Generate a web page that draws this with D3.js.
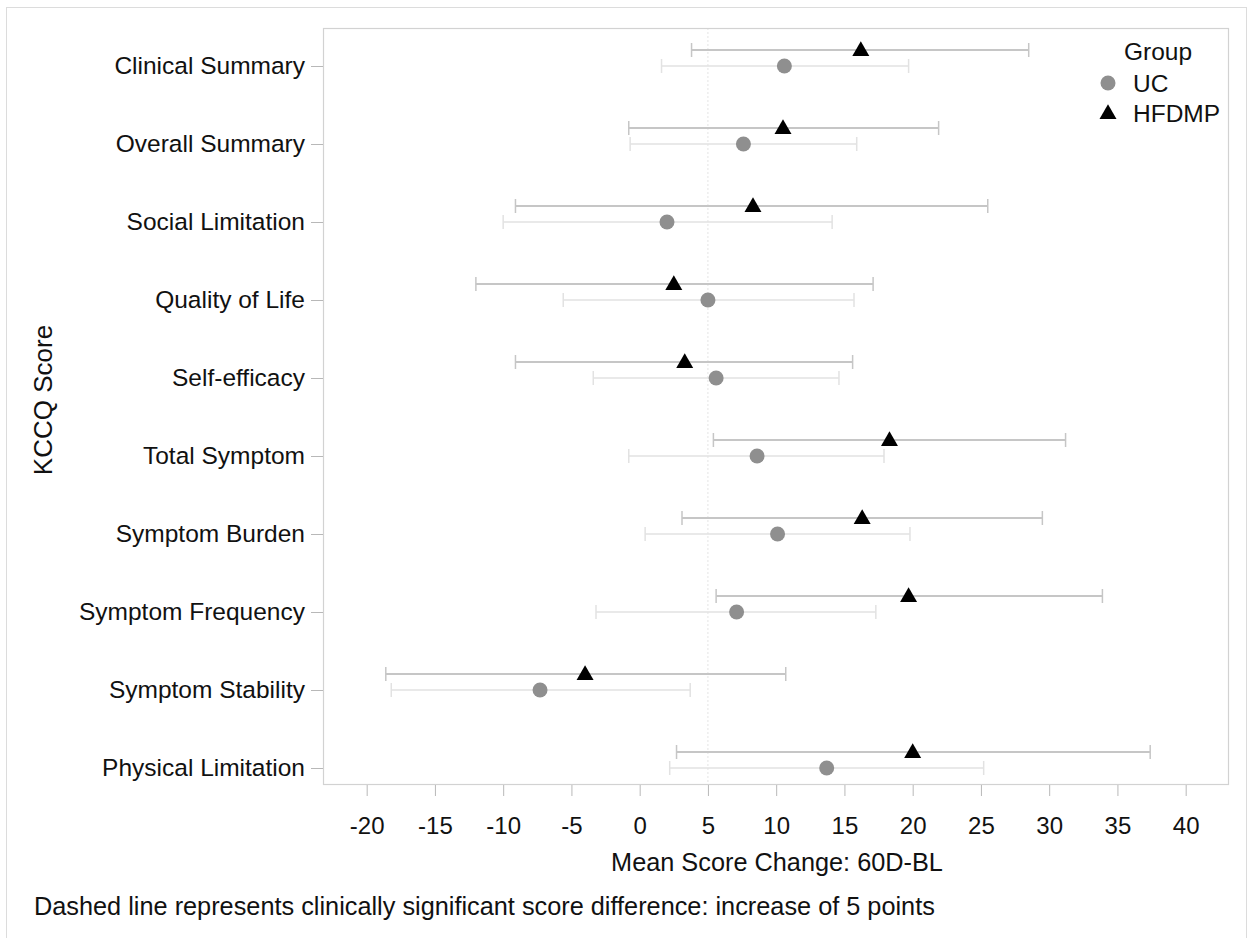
<!DOCTYPE html>
<html>
<head>
<meta charset="utf-8">
<script src="https://cdn.jsdelivr.net/npm/d3@7"></script>
<style>
  body { margin: 0; background: #fff; }
  svg { display: block; font-family: "Liberation Sans", Arial, sans-serif; }
</style>
</head>
<body>
<div id="chart"></div>
<script>
// KCCQ domains, top to bottom
const categories = [
  "Clinical Summary", "Overall Summary", "Social Limitation", "Quality of Life",
  "Self-efficacy", "Total Symptom", "Symptom Burden", "Symptom Frequency",
  "Symptom Stability", "Physical Limitation"
];

// UC group: mean change and 95% CI
const ucMean  = [10.6, 7.6, 2.0, 5.0, 5.6, 8.6, 10.1, 7.1, -7.3, 13.7];
const ucLower = [1.6, -0.7, -10.0, -5.6, -3.4, -0.8, 0.4, -3.2, -18.2, 2.2];
const ucUpper = [19.7, 15.9, 14.1, 15.7, 14.6, 17.9, 19.8, 17.3, 3.7, 25.2];

// HFDMP group: mean change and 95% CI
const hfMean  = [16.2, 10.5, 8.3, 2.5, 3.3, 18.3, 16.3, 19.7, -4.0, 20.0];
const hfLower = [3.8, -0.8, -9.1, -12.0, -9.1, 5.4, 3.1, 5.6, -18.6, 2.7];
const hfUpper = [28.5, 21.9, 25.5, 17.1, 15.6, 31.2, 29.5, 33.9, 10.7, 37.4];

const xTicks = [-20, -15, -10, -5, 0, 5, 10, 15, 20, 25, 30, 35, 40];
const refValue = 5;
const groups = ["UC", "HFDMP"];

const W = 1255, H = 938;
const frame = { left: 323, right: 1228, top: 28, bottom: 784 };
const labelSize = 24.5;
const titleSize = 25.3;

const svg = d3.select("#chart").append("svg")
  .attr("width", W)
  .attr("height", H);

// outer border
svg.append("rect")
  .attr("x", 6.5).attr("y", 7.5)
  .attr("width", 1240).attr("height", 940)
  .attr("fill", "none")
  .attr("stroke", "#dcdcdc");

const x = d3.scaleLinear()
  .domain([-23.2, 43.1])
  .range([frame.left, frame.right]);

const y = d3.scalePoint()
  .domain(categories)
  .range([66, 768]);

const hfOffset = -16;

const rows = categories.map((c, i) => ({
  cat: c,
  uc: { mean: ucMean[i], lo: ucLower[i], hi: ucUpper[i] },
  hf: { mean: hfMean[i], lo: hfLower[i], hi: hfUpper[i] }
}));

// reference line at 5
svg.append("line")
  .attr("x1", x(refValue)).attr("x2", x(refValue))
  .attr("y1", frame.top).attr("y2", frame.bottom)
  .attr("stroke", "#e4e4e4")
  .attr("stroke-dasharray", "2,2");

// error bars with caps
function errorBars(key, dy, color, width) {
  const g = svg.append("g").attr("class", "err-" + key);
  const sel = g.selectAll("g").data(rows).join("g");
  sel.append("line")
    .attr("x1", d => x(d[key].lo)).attr("x2", d => x(d[key].hi))
    .attr("y1", d => y(d.cat) + dy).attr("y2", d => y(d.cat) + dy)
    .attr("stroke", color).attr("stroke-width", width);
  ["lo", "hi"].forEach(end => {
    sel.append("line")
      .attr("x1", d => x(d[key][end])).attr("x2", d => x(d[key][end]))
      .attr("y1", d => y(d.cat) + dy - 7).attr("y2", d => y(d.cat) + dy + 7)
      .attr("stroke", color).attr("stroke-width", 1.5);
  });
}
errorBars("uc", 0, "#e2e2e2", 1.6);
errorBars("hf", hfOffset, "#c6c6c6", 2);

const tri = d3.symbol().type(d3.symbolTriangle).size(125);

svg.append("g").selectAll("circle").data(rows).join("circle")
  .attr("cx", d => x(d.uc.mean))
  .attr("cy", d => y(d.cat))
  .attr("r", 7.5)
  .attr("fill", "#8f8f8f");

svg.append("g").selectAll("path").data(rows).join("path")
  .attr("d", tri)
  .attr("transform", d => `translate(${x(d.hf.mean)},${y(d.cat) + hfOffset + 1})`)
  .attr("fill", "#000");

// plot frame
svg.append("rect")
  .attr("x", frame.left + 0.5).attr("y", frame.top + 0.5)
  .attr("width", frame.right - frame.left).attr("height", frame.bottom - frame.top)
  .attr("fill", "none")
  .attr("stroke", "#d2d2d2")
  .attr("stroke-width", 1.2);

// x axis
const xAxis = svg.append("g")
  .attr("transform", `translate(0,${frame.bottom + 1})`)
  .call(d3.axisBottom(x).tickValues(xTicks).tickSize(11).tickPadding(21)
    .tickFormat(d => String(d)));
xAxis.select(".domain").remove();
xAxis.selectAll(".tick line").attr("stroke", "#b8b8b8");
xAxis.selectAll("text")
  .attr("font-size", 24)
  .attr("font-family", "Liberation Sans, Arial, sans-serif")
  .attr("fill", "#111");

// y axis
const yAxis = svg.append("g")
  .attr("transform", `translate(${frame.left},0)`)
  .call(d3.axisLeft(y).tickSize(12).tickPadding(6));
yAxis.select(".domain").remove();
yAxis.selectAll(".tick line").attr("stroke", "#b8b8b8");
yAxis.selectAll("text")
  .attr("font-size", labelSize)
  .attr("font-family", "Liberation Sans, Arial, sans-serif")
  .attr("fill", "#111");

// axis titles
svg.append("text")
  .attr("x", 777)
  .attr("y", 871)
  .attr("text-anchor", "middle")
  .attr("font-size", titleSize)
  .attr("fill", "#111")
  .text("Mean Score Change: 60D-BL");

svg.append("text")
  .attr("transform", "translate(52,400) rotate(-90)")
  .attr("text-anchor", "middle")
  .attr("font-size", 26)
  .attr("fill", "#111")
  .text("KCCQ Score");

// footnote
svg.append("text")
  .attr("x", 34)
  .attr("y", 915)
  .attr("font-size", titleSize)
  .attr("fill", "#111")
  .text("Dashed line represents clinically significant score difference: increase of 5 points");

// legend
const legend = svg.append("g");
legend.append("text")
  .attr("x", 1124).attr("y", 60)
  .attr("font-size", labelSize)
  .attr("fill", "#111")
  .text("Group");
const items = legend.selectAll("g.item").data(groups).join("g")
  .attr("class", "item")
  .attr("transform", (d, i) => `translate(1108,${83 + i * 30})`);
items.each(function (d) {
  const g = d3.select(this);
  if (d === "UC") {
    g.append("circle").attr("r", 7.5).attr("fill", "#8f8f8f");
  } else {
    g.append("path").attr("d", tri).attr("transform", "translate(0,1)").attr("fill", "#000");
  }
  g.append("text")
    .attr("x", 25).attr("y", 9)
    .attr("font-size", labelSize)
    .attr("fill", "#111")
    .text(d);
});
</script>
</body>
</html>
